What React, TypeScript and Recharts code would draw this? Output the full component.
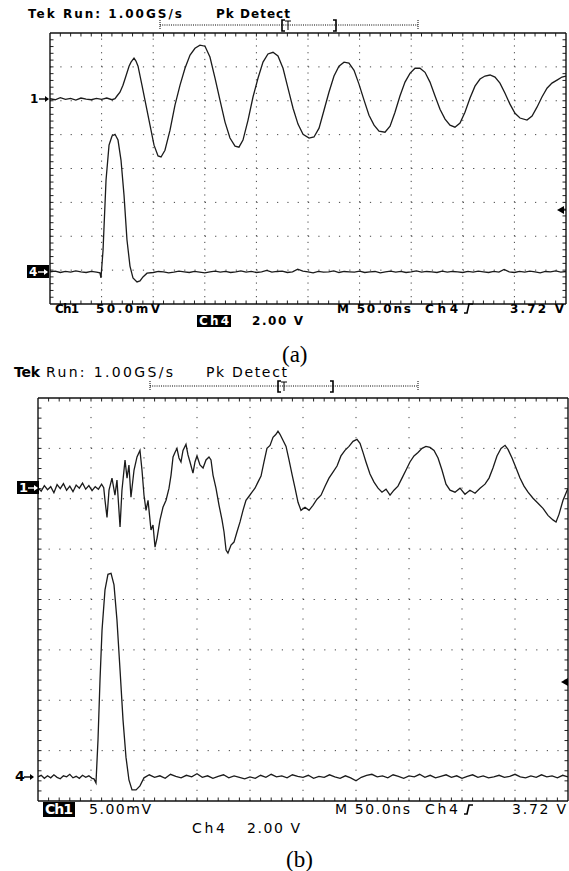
import React from 'react';
import { LineChart, Line, XAxis, YAxis, ReferenceLine } from 'recharts';

// Each sample: [time in ns from left graticule edge, screen divisions above the bottom edge]
type Sample = [number, number];

// Screen (a): Ch1 50.0 mV/div
const traceA1: Sample[] = [
  [0, 6.06], [5, 6.03], [10, 6.09], [15, 6.04], [20, 6.07], [25, 6.02], [30, 6.08], [35, 6.05], [40, 6.03], [45, 6.07],
  [50, 6.04], [55, 6.08], [60, 6.03], [63, 6.06], [64.9, 6.14], [67.8, 6.25], [70.7, 6.46], [73.6, 6.73], [76.6, 7.02],
  [78.5, 7.14], [81.4, 7.26], [83.3, 7.17], [85.3, 7.02], [89.1, 6.46], [93.0, 5.87], [96.9, 5.28], [100.8, 4.69],
  [104.7, 4.37], [107.6, 4.34], [111.4, 4.54], [116.3, 5.13], [121.1, 5.87], [126.0, 6.46], [130.8, 6.96], [135.7, 7.35],
  [140.5, 7.55], [145.3, 7.64], [150.2, 7.61], [155.0, 7.29], [159.9, 6.67], [164.7, 6.02], [169.6, 5.37], [174.4, 4.9],
  [179.3, 4.66], [183.1, 4.63], [187.0, 4.84], [191.9, 5.43], [196.7, 6.11], [201.6, 6.67], [206.4, 7.14], [211.2, 7.38],
  [216.1, 7.43], [220.9, 7.32], [225.8, 6.96], [230.6, 6.37], [235.5, 5.78], [240.3, 5.31], [245.2, 5.01], [251.0, 4.9],
  [255.8, 4.93], [260.7, 5.19], [265.5, 5.72], [270.3, 6.25], [275.2, 6.73], [280.0, 7.02], [284.9, 7.14], [289.7, 7.11],
  [294.6, 6.9], [299.4, 6.49], [304.3, 6.02], [309.1, 5.57], [314.0, 5.28], [318.8, 5.1], [324.6, 5.07], [329.5, 5.25],
  [334.3, 5.66], [339.1, 6.14], [344.0, 6.55], [348.8, 6.81], [353.7, 6.96], [358.5, 6.96], [363.4, 6.84], [368.2, 6.55],
  [373.1, 6.14], [377.9, 5.75], [382.8, 5.46], [387.6, 5.28], [392.4, 5.22], [397.3, 5.34], [402.1, 5.66], [407.0, 6.08],
  [411.8, 6.43], [416.7, 6.64], [421.5, 6.73], [426.4, 6.76], [431.2, 6.7], [436.0, 6.52], [440.9, 6.22], [445.7, 5.9],
  [450.6, 5.63], [455.4, 5.49], [462.2, 5.43], [467.1, 5.55], [471.9, 5.81], [476.7, 6.11], [481.6, 6.37], [486.4, 6.52],
  [491.3, 6.61], [496.1, 6.7], [500, 6.73],
];

// Screen (a): Ch4 2.00 V/div
const traceA4: Sample[] = [
  [0, 0.95], [5, 0.97], [10, 0.93], [15, 0.96], [20, 0.94], [25, 0.98], [30, 0.95], [35, 0.93], [40, 0.96], [45, 0.94],
  [48.4, 0.92], [49.4, 0.77], [51.4, 1.59], [54.3, 3.66], [57.2, 4.69], [60.1, 4.96], [63.0, 5.01], [65.9, 4.84],
  [68.8, 4.25], [71.7, 3.22], [74.6, 1.89], [77.5, 1.12], [80.4, 0.77], [84.3, 0.65], [87.2, 0.68], [90.1, 0.8], [94.0, 0.91],
  [100, 0.93], [105, 0.96], [110, 0.95], [115, 0.92], [120, 0.94], [125, 0.97], [130, 0.95], [135, 0.93], [140, 0.96], [145, 0.94],
  [150, 0.92], [155, 0.95], [160, 0.97], [165, 0.94], [170, 0.96], [175, 0.93], [180, 0.95], [185, 0.98], [190, 0.94], [195, 0.96],
  [200, 0.93], [205, 0.95], [210, 0.99], [215, 0.94], [220, 0.96], [225, 0.97], [230, 0.93], [235, 0.95], [240, 1.03], [245, 0.97],
  [250, 0.95], [255, 0.92], [260, 0.96], [265, 0.94], [270, 0.95], [275, 0.98], [280, 0.93], [285, 0.96], [290, 0.95], [295, 0.94],
  [300, 0.97], [305, 0.93], [310, 0.95], [315, 0.96], [320, 0.92], [325, 0.95], [330, 0.97], [335, 0.94], [340, 0.96], [345, 0.93],
  [350, 0.95], [355, 0.98], [360, 0.94], [365, 0.96], [370, 0.95], [375, 0.93], [380, 0.97], [385, 0.94], [390, 0.96], [395, 0.95],
  [400, 0.93], [405, 0.96], [410, 0.94], [415, 0.97], [420, 0.95], [425, 0.93], [430, 0.96], [435, 0.94], [440, 1.02], [445, 0.95],
  [450, 0.93], [455, 0.96], [460, 0.94], [465, 0.97], [470, 0.95], [475, 0.92], [480, 0.96], [485, 0.95], [490, 0.98], [495, 0.94],
  [500, 0.96],
];

// Screen (b): Ch1 5.00 mV/div
const traceB1: Sample[] = [
  [0, 6.22], [3, 6.15], [6, 6.26], [9, 6.18], [12, 6.24], [15, 6.12], [18, 6.28], [21, 6.2], [24, 6.3], [27, 6.17],
  [30, 6.25], [33, 6.14], [36, 6.27], [39, 6.21], [42, 6.31], [45, 6.19], [48, 6.26], [51, 6.16], [54, 6.24], [57, 6.19],
  [60, 6.29], [62, 6.22], [63.2, 5.97], [65.1, 5.63], [67.0, 6.17], [69.8, 6.41], [72.6, 6.07], [74.5, 6.37], [77.4, 5.44],
  [79.2, 6.17], [82.1, 6.77], [84.0, 6.41], [85.8, 6.67], [87.7, 6.03], [90.6, 6.57], [93.4, 6.83], [96.2, 6.96], [98.1, 6.57],
  [100.0, 6.07], [101.9, 5.77], [103.8, 5.97], [106.6, 5.38], [108.5, 5.48], [110.4, 5.04], [112.3, 5.22], [115.1, 5.58],
  [117.9, 5.83], [120.8, 5.97], [123.6, 6.21], [125.5, 6.47], [127.4, 6.83], [129.2, 6.92], [131.1, 7.0], [133.0, 6.81],
  [134.9, 6.73], [136.8, 6.96], [139.6, 7.08], [141.5, 6.87], [143.4, 6.73], [146.2, 6.51], [148.1, 6.73], [150.0, 6.85],
  [152.8, 6.67], [155.7, 6.61], [158.5, 6.77], [161.3, 6.83], [163.2, 6.77], [165.1, 6.47], [167.9, 6.21], [170.8, 5.87],
  [173.6, 5.58], [175.5, 5.34], [177.4, 4.98], [179.2, 4.92], [182.1, 5.08], [184.9, 5.14], [187.7, 5.34], [190.6, 5.54],
  [193.4, 5.77], [196.2, 5.97], [199.1, 6.05], [201.9, 6.13], [204.7, 6.21], [207.5, 6.33], [210.4, 6.45], [213.2, 6.73],
  [216.0, 7.0], [218.9, 7.06], [221.7, 7.22], [224.5, 7.28], [226.4, 7.34], [228.3, 7.28], [231.1, 7.16], [234.0, 7.04],
  [236.8, 6.77], [239.6, 6.49], [242.5, 6.21], [245.3, 5.93], [248.1, 5.77], [251.9, 5.83], [255.7, 5.77], [259.4, 5.87],
  [263.2, 5.99], [267.0, 6.07], [270.8, 6.25], [274.5, 6.41], [278.3, 6.53], [282.1, 6.65], [285.8, 6.85], [289.6, 6.96],
  [293.4, 7.04], [297.2, 7.14], [300.9, 7.18], [303.8, 7.1], [306.6, 6.92], [309.4, 6.73], [313.2, 6.49], [317.0, 6.33],
  [320.8, 6.21], [324.5, 6.13], [328.3, 6.19], [332.1, 6.07], [335.8, 6.17], [339.6, 6.25], [343.4, 6.41], [347.2, 6.57],
  [350.9, 6.73], [354.7, 6.85], [358.5, 6.92], [362.3, 7.0], [366.0, 7.04], [369.8, 7.02], [373.6, 6.96], [377.4, 6.81],
  [381.1, 6.57], [384.9, 6.29], [388.7, 6.17], [393.4, 6.13], [398.1, 6.21], [402.8, 6.09], [407.5, 6.17], [412.3, 6.11],
  [417.0, 6.21], [421.7, 6.29], [425.5, 6.41], [429.2, 6.61], [433.0, 6.85], [436.8, 7.0], [440.6, 7.06], [443.4, 6.98],
  [447.2, 6.81], [451.0, 6.61], [454.7, 6.41], [458.5, 6.25], [462.3, 6.13], [467.0, 6.01], [471.7, 5.91], [476.4, 5.81],
  [481.1, 5.67], [485.8, 5.58], [488.7, 5.54], [491.5, 5.69], [495.3, 5.97], [500, 6.21],
];

// Screen (b): Ch4 2.00 V/div
const traceB4: Sample[] = [
  [0, 0.48], [3, 0.51], [6, 0.45], [9, 0.5], [12, 0.46], [15, 0.52], [18, 0.47], [21, 0.44], [24, 0.5], [27, 0.48],
  [30, 0.53], [33, 0.46], [36, 0.49], [39, 0.45], [42, 0.51], [45, 0.47], [48, 0.5], [51, 0.45], [52.8, 0.44], [54.7, 0.36],
  [56.6, 1.21], [58.5, 2.4], [60.4, 3.39], [63.2, 4.19], [66.0, 4.5], [68.9, 4.52], [71.7, 4.29], [74.5, 3.59], [77.4, 2.6],
  [80.2, 1.61], [83.0, 0.87], [85.8, 0.42], [88.7, 0.22], [92.5, 0.22], [96.2, 0.3], [100.0, 0.46],
  [105, 0.52], [110, 0.47], [115, 0.5], [120, 0.45], [125, 0.53], [130, 0.49], [135, 0.46], [140, 0.51], [145, 0.48], [150, 0.54],
  [155, 0.47], [160, 0.5], [165, 0.45], [170, 0.49], [175, 0.52], [180, 0.46], [185, 0.5], [190, 0.47], [195, 0.44], [200, 0.48],
  [205, 0.45], [210, 0.51], [215, 0.47], [220, 0.53], [225, 0.48], [230, 0.5], [235, 0.46], [240, 0.52], [245, 0.49], [250, 0.47],
  [255, 0.51], [260, 0.45], [265, 0.49], [270, 0.47], [275, 0.52], [280, 0.48], [285, 0.45], [290, 0.5], [295, 0.46], [300, 0.4],
  [305, 0.47], [310, 0.51], [315, 0.53], [320, 0.48], [325, 0.5], [330, 0.46], [335, 0.52], [340, 0.49], [345, 0.45], [350, 0.5],
  [355, 0.48], [360, 0.53], [365, 0.47], [370, 0.51], [375, 0.46], [380, 0.49], [385, 0.52], [390, 0.47], [395, 0.5], [400, 0.45],
  [405, 0.49], [410, 0.52], [415, 0.47], [420, 0.5], [425, 0.46], [430, 0.48], [435, 0.51], [440, 0.47], [445, 0.49], [450, 0.53],
  [455, 0.48], [460, 0.46], [465, 0.5], [470, 0.47], [475, 0.52], [480, 0.48], [485, 0.5], [490, 0.46], [495, 0.51], [500, 0.48],
];

// Graticule: 10 × 50.0 ns horizontally, 8 divisions vertically, 5 minor steps per division
const TIME_SPAN = 500;
const DIVS = 8;
const majorTimes = [50, 100, 150, 200, 250, 300, 350, 400, 450];
const majorDivs = [1, 2, 3, 4, 5, 6, 7];
const innerMinorTimes = Array.from({ length: 49 }, (_, i) => (i + 1) * 10);
const innerMinorDivs = Array.from({ length: 39 }, (_, i) => Math.round((i + 1) * 2) / 10);

const toRows = (s: Sample[]) => s.map(([t, v]) => ({ t, v }));

type Margin = { top: number; right: number; bottom: number; left: number };

function Screen(props: {
  width: number;
  height: number;
  margin: Margin;
  traces: Sample[][];
  plotW: number; // graticule width in px
  plotH: number; // graticule height in px
}) {
  const { width, height, margin, traces, plotW, plotH } = props;
  const frame = { stroke: '#111', strokeWidth: 1.4 };
  const common = { tick: false as const, tickLine: false as const, axisLine: frame, allowDataOverflow: true };
  const minorX = plotW / 50;
  const minorY = plotH / 40;
  const tickLen = 3.5;
  // dotted graticule lines: one dot per minor step
  const hDash = `1.2 ${minorX - 1.2}`;
  const vDash = `1.2 ${minorY - 1.2}`;
  // edge ticks: a short dash at each end of a full-span line
  const vTickDash = `${tickLen} ${plotH - 2 * tickLen} ${tickLen}`;
  const hTickDash = `${tickLen} ${plotW - 2 * tickLen} ${tickLen}`;
  return (
    <LineChart width={width} height={height} margin={margin}>
      <XAxis xAxisId="t" dataKey="t" type="number" domain={[0, TIME_SPAN]} height={1} {...common} />
      <XAxis xAxisId="tTop" orientation="top" type="number" domain={[0, TIME_SPAN]} height={1} {...common} />
      <YAxis yAxisId="d" type="number" domain={[0, DIVS]} width={1} {...common} />
      <YAxis yAxisId="dRight" orientation="right" type="number" domain={[0, DIVS]} width={1} {...common} />
      {majorDivs.map((d) => (
        <ReferenceLine key={`h${d}`} xAxisId="t" yAxisId="d" y={d} stroke="#444" strokeWidth={1} strokeDasharray={hDash} />
      ))}
      {majorTimes.map((t) => (
        <ReferenceLine key={`v${t}`} xAxisId="t" yAxisId="d" x={t} stroke="#444" strokeWidth={1} strokeDasharray={vDash} />
      ))}
      {innerMinorTimes.map((t) => (
        <ReferenceLine key={`tv${t}`} xAxisId="t" yAxisId="d" x={t} stroke="#222" strokeWidth={1} strokeDasharray={vTickDash} />
      ))}
      {innerMinorDivs.map((d) => (
        <ReferenceLine key={`th${d}`} xAxisId="t" yAxisId="d" y={d} stroke="#222" strokeWidth={1} strokeDasharray={hTickDash} />
      ))}
      {traces.map((s, i) => (
        <Line
          key={i}
          xAxisId="t"
          yAxisId="d"
          data={toRows(s)}
          dataKey="v"
          type="linear"
          dot={false}
          activeDot={false}
          stroke="#1b1b1b"
          strokeWidth={1.3}
          isAnimationActive={false}
        />
      ))}
    </LineChart>
  );
}

const SANS = '"DejaVu Sans", sans-serif';
const SERIF = '"Liberation Serif", "Times New Roman", serif';

function Txt(p: { x: number; y: number; w?: number; size: number; bold?: boolean; fill?: string; family?: string; children: string }) {
  return (
    <text
      x={p.x}
      y={p.y}
      textLength={p.w}
      lengthAdjust={p.w ? 'spacing' : undefined}
      fontSize={p.size}
      fontWeight={p.bold ? 700 : 400}
      fill={p.fill ?? '#000'}
      fontFamily={p.family ?? SANS}
    >
      {p.children}
    </text>
  );
}

// Channel ground marker "n→"
function Marker(p: { x: number; y: number; label: string; inverted?: boolean; size: number }) {
  const fg = p.inverted ? '#fff' : '#000';
  return (
    <g>
      {p.inverted && <rect x={p.x - 2} y={p.y - 7} width={22} height={13} fill="#000" />}
      <Txt x={p.x} y={p.y + 4} size={p.size} bold fill={fg}>{p.label}</Txt>
      <path d={`M${p.x + 9} ${p.y} H${p.x + 18}`} stroke={fg} strokeWidth={1.4} />
      <path d={`M${p.x + 19} ${p.y} l-4 -3 v6 z`} fill={fg} />
    </g>
  );
}

// Trigger-level arrow at right edge
function LevelArrow(p: { x: number; y: number; right: number }) {
  return (
    <g>
      <path d={`M${p.x} ${p.y} l7 -4 v8 z`} fill="#000" />
      <path d={`M${p.x + 6} ${p.y} H${p.right}`} stroke="#000" strokeWidth={1.2} />
    </g>
  );
}

// Record window bar with trigger position brackets
function RecordBar(p: { x0: number; x1: number; y: number; b0: number; b1: number }) {
  return (
    <g stroke="#000" fill="none">
      <path d={`M${p.x0} ${p.y} H${p.x1}`} strokeWidth={1} strokeDasharray="1 1.2" />
      <path d={`M${p.x0} ${p.y - 5} V${p.y + 5}`} strokeWidth={1} strokeDasharray="1 1" />
      <path d={`M${p.x1} ${p.y - 5} V${p.y + 5}`} strokeWidth={1} strokeDasharray="1 1" />
      <path d={`M${p.b0 + 3} ${p.y - 5} h-3 v11 h3`} strokeWidth={1.6} />
      <path d={`M${p.b0 + 3} ${p.y - 4} h6 M${p.b0 + 6} ${p.y - 4} v9`} strokeWidth={1} />
      <path d={`M${p.b1 - 3} ${p.y - 5} h3 v11 h-3`} strokeWidth={1.6} />
    </g>
  );
}

// Rising-edge trigger slope glyph
function Slope(p: { x: number; y: number }) {
  return <path d={`M${p.x} ${p.y} h3 l2 -9 h4`} stroke="#000" strokeWidth={1.6} fill="none" />;
}

export default function App() {
  return (
    <div style={{ position: 'absolute', left: 0, top: 0, width: 569, height: 871, background: '#fff', overflow: 'hidden' }}>
      <div style={{ position: 'absolute', left: 0, top: 0 }}>
        <Screen
          width={569}
          height={340}
          margin={{ top: 32, right: 2, bottom: 35, left: 49 }}
          traces={[traceA1, traceA4]}
          plotW={516}
          plotH={271}
        />
      </div>
      <div style={{ position: 'absolute', left: 0, top: 360 }}>
        <Screen
          width={569}
          height={460}
          margin={{ top: 37, right: 0, bottom: 18, left: 37 }}
          traces={[traceB1, traceB4]}
          plotW={530}
          plotH={403}
        />
      </div>
      <svg width={569} height={871} style={{ position: 'absolute', left: 0, top: 0, pointerEvents: 'none' }}>
        {/* Screen (a) annotations */}
        <Txt x={28} y={18} w={154} size={12} bold>Tek Run: 1.00GS/s</Txt>
        <Txt x={216} y={18} w={74} size={12} bold>Pk Detect</Txt>
        <RecordBar x0={160} x1={418} y={25} b0={282} b1={336} />
        <Marker x={30} y={99} label="1" size={12} />
        <Marker x={29} y={272} label="4" size={12} inverted />
        <LevelArrow x={557} y={210} right={566} />
        <Txt x={55} y={313} w={24} size={12} bold>Ch1</Txt>
        <Txt x={96} y={313} w={64} size={12} bold>50.0mV</Txt>
        <Txt x={337} y={313} w={74} size={12} bold>M 50.0ns</Txt>
        <Txt x={425} y={313} w={33} size={12} bold>Ch4</Txt>
        <Slope x={464} y={313} />
        <Txt x={510} y={313} w={54} size={12} bold>3.72 V</Txt>
        <rect x={197} y={315} width={34} height={12} fill="#000" />
        <Txt x={199} y={325} w={30} size={12} bold fill="#fff">Ch4</Txt>
        <Txt x={252} y={325} w={51} size={12} bold>2.00 V</Txt>
        <Txt x={282} y={362} size={23} family={SERIF}>(a)</Txt>

        {/* Screen (b) annotations */}
        <Txt x={14} y={377} w={26} size={14} bold>Tek</Txt>
        <Txt x={46} y={377} w={127} size={14}>Run: 1.00GS/s</Txt>
        <Txt x={206} y={377} w={81} size={14}>Pk Detect</Txt>
        <RecordBar x0={150} x1={418} y={386} b0={278} b1={333} />
        <Marker x={19} y={488} label="1" size={13} inverted />
        <Marker x={15} y={777} label="4" size={14} />
        <LevelArrow x={561} y={682} right={568} />
        <rect x={43} y={802} width={32} height={15} fill="#000" />
        <Txt x={45} y={814} w={28} size={14} bold fill="#fff">Ch1</Txt>
        <Txt x={89} y={814} w={62} size={14}>5.00mV</Txt>
        <Txt x={335} y={814} w={75} size={14}>M 50.0ns</Txt>
        <Txt x={425} y={814} w={33} size={14}>Ch4</Txt>
        <Slope x={464} y={814} />
        <Txt x={512} y={814} w={54} size={14}>3.72 V</Txt>
        <Txt x={192} y={833} w={33} size={14}>Ch4</Txt>
        <Txt x={247} y={833} w={53} size={14}>2.00 V</Txt>
        <Txt x={286} y={867} size={23} family={SERIF}>(b)</Txt>
      </svg>
    </div>
  );
}
